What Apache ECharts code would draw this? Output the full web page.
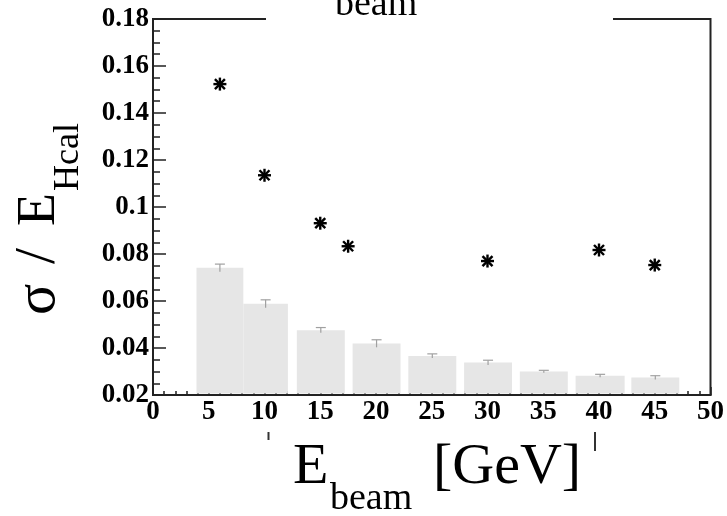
<!DOCTYPE html>
<html>
<head>
<meta charset="utf-8">
<script src="https://cdn.jsdelivr.net/npm/echarts@6/dist/echarts.min.js"></script>
<style>html,body{margin:0;padding:0;background:#fff;}#c{width:727px;height:516px;}</style>
</head>
<body>
<div id="c"></div>
<script>
// Star markers (sigma / E_Hcal vs beam energy)
const starEnergy = [6, 10, 15, 17.5, 30, 40, 45];
const starSigma = [0.1523, 0.1135, 0.0931, 0.0833, 0.0770, 0.0817, 0.0753];
// Histogram bins (grey bars)
const binLow = [3.9, 8.1, 12.9, 17.9, 22.9, 27.9, 32.9, 37.9, 42.9];
const binHigh = [8.1, 12.1, 17.2, 22.2, 27.2, 32.2, 37.2, 42.3, 47.2];
const binValue = [0.0741, 0.0588, 0.0476, 0.0419, 0.0366, 0.0338, 0.0300, 0.0282, 0.0274];
const binError = [0.0016, 0.0017, 0.0011, 0.0016, 0.0009, 0.0010, 0.0005, 0.0006, 0.0008];
// Axis ticks
const xTicks = {min: 0, max: 50, step: 5};
const yTicks = {min: 0.02, max: 0.18, step: 0.02};

const SERIF = '"Liberation Serif", "DejaVu Serif", serif';
const chart = echarts.init(document.getElementById('c'));

const barData = binLow.map((lo, i) => [lo, binHigh[i], binValue[i], binError[i]]);
const starData = starEnergy.map((e, i) => [e, starSigma[i]]);

const option = {
  animation: false,
  backgroundColor: '#fff',
  grid: {left: 153, right: 14, top: 19, bottom: 121, show: true, borderColor: '#222', borderWidth: 2, backgroundColor: 'transparent'},
  xAxis: {
    type: 'value', min: xTicks.min, max: xTicks.max, interval: xTicks.step,
    axisLine: {show: true, onZero: false, lineStyle: {color: '#222', width: 2}},
    axisTick: {show: true, inside: true, length: 8, lineStyle: {color: '#222', width: 1.5}},
    minorTick: {show: true, splitNumber: 5, length: 4, lineStyle: {color: '#222', width: 1.5}},
    splitLine: {show: false},
    axisLabel: {color: '#000', fontFamily: SERIF, fontWeight: 'bold', fontSize: 27, margin: 4}
  },
  yAxis: {
    type: 'value', min: yTicks.min, max: yTicks.max, interval: yTicks.step,
    axisLine: {show: true, onZero: false, lineStyle: {color: '#222', width: 2}},
    axisTick: {show: true, inside: true, length: 13, lineStyle: {color: '#222', width: 1.5}},
    minorTick: {show: true, splitNumber: 4, length: 7, lineStyle: {color: '#222', width: 1.5}},
    splitLine: {show: false},
    axisLabel: {color: '#000', fontFamily: SERIF, fontWeight: 'bold', fontSize: 27, margin: 4,
      formatter: v => String(+v.toFixed(2))}
  },
  series: [
    {
      type: 'custom', name: 'bins', data: barData, encode: {x: [0, 1], y: 2},
      renderItem: function (params, api) {
        const lo = api.value(0), hi = api.value(1), v = api.value(2), e = api.value(3);
        const tl = api.coord([lo, v]);
        const br = api.coord([hi, yTicks.min]);
        const top = api.coord([(lo + hi) / 2, v + e]);
        const bot = api.coord([(lo + hi) / 2, v - e]);
        return {type: 'group', children: [
          {type: 'rect', shape: {x: tl[0], y: tl[1], width: br[0] - tl[0], height: br[1] - tl[1] - 1.5}, style: {fill: '#e6e6e6'}},
          {type: 'line', shape: {x1: top[0], y1: top[1], x2: bot[0], y2: bot[1]}, style: {stroke: '#a0a0a0', lineWidth: 1.2}},
          {type: 'line', shape: {x1: top[0] - 5, y1: top[1], x2: top[0] + 5, y2: top[1]}, style: {stroke: '#a0a0a0', lineWidth: 1.2}}
        ]};
      }
    },
    {
      type: 'custom', name: 'stars', data: starData, encode: {x: 0, y: 1}, z: 5,
      renderItem: function (params, api) {
        const p = api.coord([api.value(0), api.value(1)]);
        const r = 6.5, d = 5;
        const st = {stroke: '#000', lineWidth: 2.4};
        return {type: 'group', children: [
          {type: 'line', shape: {x1: p[0] - r, y1: p[1], x2: p[0] + r, y2: p[1]}, style: st},
          {type: 'line', shape: {x1: p[0], y1: p[1] - r, x2: p[0], y2: p[1] + r}, style: st},
          {type: 'line', shape: {x1: p[0] - d, y1: p[1] - d, x2: p[0] + d, y2: p[1] + d}, style: st},
          {type: 'line', shape: {x1: p[0] - d, y1: p[1] + d, x2: p[0] + d, y2: p[1] - d}, style: st}
        ]};
      }
    }
  ],
  graphic: [
    {type: 'rect', left: 266, top: 0, shape: {width: 347, height: 24}, style: {fill: '#fff'}, z: 100},
    {type: 'text', x: 335, y: 5, z: 101, style: {text: 'beam', font: '38px ' + SERIF, fill: '#000', textVerticalAlign: 'middle'}},
    {type: 'text', x: 293, y: 468, z: 101, style: {text: 'E', font: '58px ' + SERIF, fill: '#000', textVerticalAlign: 'middle'}},
    {type: 'text', x: 330, y: 499, z: 101, style: {text: 'beam', font: '38px ' + SERIF, fill: '#000', textVerticalAlign: 'middle'}},
    {type: 'text', x: 433, y: 468, z: 101, style: {text: '[GeV]', font: '58px ' + SERIF, fill: '#000', textVerticalAlign: 'middle'}},
    {type: 'line', z: 101, shape: {x1: 268.5, y1: 432, x2: 268.5, y2: 440}, style: {stroke: '#333', lineWidth: 2}},
    {type: 'line', z: 101, shape: {x1: 595, y1: 432, x2: 595, y2: 451}, style: {stroke: '#333', lineWidth: 2}},
    {type: 'group', x: 59, y: 315, rotation: Math.PI / 2, z: 101, children: [
      {type: 'text', x: 0, y: -20, style: {text: 'σ', font: '58px ' + SERIF, fill: '#000', textVerticalAlign: 'middle'}},
      {type: 'text', x: 51, y: -20, style: {text: '/', font: '58px ' + SERIF, fill: '#000', textVerticalAlign: 'middle'}},
      {type: 'text', x: 89, y: -19, style: {text: 'E', font: '54px ' + SERIF, fill: '#000', textVerticalAlign: 'middle'}},
      {type: 'text', x: 124, y: 10, style: {text: 'Hcal', font: '36px ' + SERIF, fill: '#000', textVerticalAlign: 'middle'}}
    ]}
  ]
};
chart.setOption(option);
</script>
</body>
</html>
